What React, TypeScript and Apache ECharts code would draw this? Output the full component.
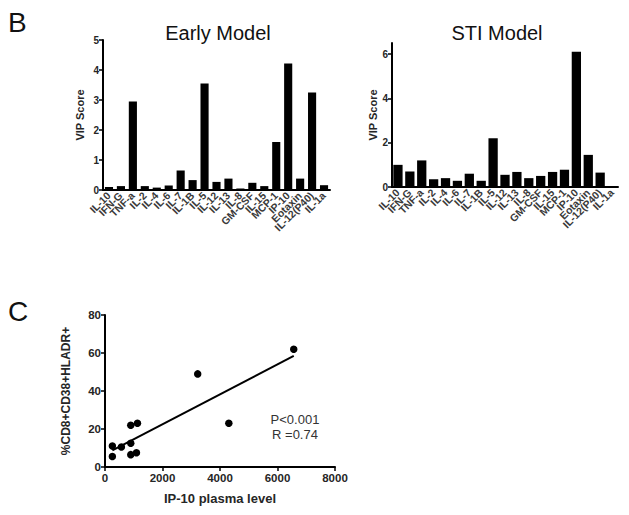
import React, { useEffect, useRef } from "react";
import * as echarts from "echarts";

const cytokines = [
  "IL-10", "IFN-G", "TNF-a", "IL-2", "IL-4", "IL-6", "IL-7", "IL-1B", "IL-5", "IL-12",
  "IL-13", "IL-8", "GM-CSF", "IL-15", "MCP-1", "IP-10", "Eotaxin", "IL-12(P40)", "IL-1a",
];
const earlyVip = [0.1, 0.13, 2.95, 0.13, 0.08, 0.15, 0.65, 0.33, 3.55, 0.27, 0.38, 0.05, 0.24, 0.13, 1.6, 4.22, 0.38, 3.25, 0.16];
const stiVip = [1.0, 0.7, 1.2, 0.35, 0.4, 0.28, 0.6, 0.28, 2.2, 0.55, 0.68, 0.4, 0.5, 0.68, 0.78, 6.1, 1.45, 0.65, 0];
const earlyTicks = [0, 1, 2, 3, 4, 5];
const stiTicks = [0, 2, 4, 6];

const ip10Level = [256, 256, 570, 896, 896, 896, 1129, 1094, 3224, 4307, 6565];
const cd8Pct = [11, 5.5, 10.5, 12.5, 22, 6.5, 23, 7.5, 49, 23, 62];
const scatterXTicks = [0, 2000, 4000, 6000, 8000];
const scatterYTicks = [0, 20, 40, 60, 80];
const statsText = ["P<0.001", "R =0.74"];

const FONT = "'Liberation Sans', Arial, sans-serif";
const TXT = "#262626";

function fitLine(xs: number[], ys: number[]) {
  const n = xs.length;
  const mx = xs.reduce((a, b) => a + b, 0) / n;
  const my = ys.reduce((a, b) => a + b, 0) / n;
  let sxy = 0, sxx = 0;
  for (let i = 0; i < n; i++) {
    sxy += (xs[i] - mx) * (ys[i] - my);
    sxx += (xs[i] - mx) * (xs[i] - mx);
  }
  const slope = sxy / sxx;
  const icpt = my - slope * mx;
  const x0 = Math.min(...xs), x1 = Math.max(...xs);
  return [[x0, icpt + slope * x0], [x1, icpt + slope * x1]];
}

export default function App() {
  const ref = useRef<HTMLDivElement>(null);
  useEffect(() => {
    if (!ref.current) return;
    const chart = echarts.init(ref.current, undefined, { renderer: "svg" });
    const axisLine = { lineStyle: { color: "#000", width: 2 } };
    const catAxis = (gridIndex: number) => ({
      type: "category",
      gridIndex,
      data: cytokines,
      axisLine,
      axisTick: { alignWithLabel: true, length: 4, lineStyle: { color: "#000", width: 1.5 } },
      axisLabel: {
        interval: 0,
        rotate: 45,
        fontSize: 10.5,
        fontWeight: "bold",
        color: "#3a3a3a",
        fontFamily: FONT,
        margin: 4,
      },
    });
    const valAxisBar = (gridIndex: number, max: number, ticks: number[], interval: number, nameGap: number) => ({
      type: "value",
      gridIndex,
      min: 0,
      max,
      interval,
      name: "VIP Score",
      nameLocation: "middle",
      nameGap,
      nameTextStyle: { fontSize: 11, fontWeight: "bold", color: TXT, fontFamily: FONT },
      splitLine: { show: false },
      axisLine: { show: true, ...axisLine },
      axisTick: { show: true, length: 4, customValues: ticks, lineStyle: { color: "#000", width: 1.5 } },
      axisLabel: { customValues: ticks, fontSize: 10, fontWeight: "bold", color: TXT, fontFamily: FONT, margin: 4 },
    });
    const line = fitLine(ip10Level, cd8Pct);
    chart.setOption({
      animation: false,
      textStyle: { fontFamily: FONT },
      title: [
        { text: "Early Model", left: 213, top: 18, textAlign: "center", textStyle: { fontSize: 20, fontWeight: "normal", color: "#111", fontFamily: FONT } },
        { text: "STI Model", left: 492, top: 18, textAlign: "center", textStyle: { fontSize: 20, fontWeight: "normal", color: "#111", fontFamily: FONT } },
      ],
      graphic: [
        { type: "text", left: 8, top: 8, style: { text: "B", fontSize: 28, fill: "#111", fontFamily: FONT } },
        { type: "text", left: 8, top: 297, style: { text: "C", fontSize: 28, fill: "#111", fontFamily: FONT } },
        { type: "text", x: 295, y: 412, style: { text: statsText.join("\n"), fontSize: 13, lineHeight: 15, fill: "#333", fontFamily: FONT, align: "center" } },
      ],
      grid: [
        { left: 103, right: 299, top: 40, height: 150 },
        { left: 392, right: 11, top: 43, height: 144 },
        { left: 105, right: 294, top: 315, height: 152 },
      ],
      xAxis: [
        catAxis(0),
        catAxis(1),
        {
          type: "value",
          gridIndex: 2,
          min: 0,
          max: 8000,
          interval: 2000,
          name: "IP-10 plasma level",
          nameLocation: "middle",
          nameGap: 25,
          nameTextStyle: { fontSize: 13, fontWeight: "bold", color: TXT, fontFamily: FONT },
          splitLine: { show: false },
          axisLine,
          axisTick: { length: 4, lineStyle: { color: "#000", width: 1.5 }, customValues: scatterXTicks },
          axisLabel: { customValues: scatterXTicks, formatter: (v: number) => String(v), fontSize: 11.5, fontWeight: "bold", color: TXT, fontFamily: FONT, margin: 5 },
        },
      ],
      yAxis: [
        valAxisBar(0, 5, earlyTicks, 1, 18),
        valAxisBar(1, 6.5, stiTicks, 2, 14),
        {
          type: "value",
          gridIndex: 2,
          min: 0,
          max: 80,
          interval: 20,
          name: "%CD8+CD38+HLADR+",
          nameLocation: "middle",
          nameGap: 33,
          nameTextStyle: { fontSize: 12, fontWeight: "bold", color: TXT, fontFamily: FONT },
          splitLine: { show: false },
          axisLine: { show: true, ...axisLine },
          axisTick: { show: true, length: 4, lineStyle: { color: "#000", width: 1.5 }, customValues: scatterYTicks },
          axisLabel: { customValues: scatterYTicks, fontSize: 11.5, fontWeight: "bold", color: TXT, fontFamily: FONT, margin: 4 },
        },
      ],
      series: [
        { type: "bar", xAxisIndex: 0, yAxisIndex: 0, data: earlyVip, barCategoryGap: "32%", itemStyle: { color: "#000" } },
        { type: "bar", xAxisIndex: 1, yAxisIndex: 1, data: stiVip, barCategoryGap: "22%", itemStyle: { color: "#000" } },
        {
          type: "scatter",
          xAxisIndex: 2,
          yAxisIndex: 2,
          data: ip10Level.map((x, i) => [x, cd8Pct[i]]),
          symbolSize: 7.5,
          itemStyle: { color: "#000", opacity: 1 },
        },
        {
          type: "line",
          xAxisIndex: 2,
          yAxisIndex: 2,
          data: line,
          showSymbol: false,
          symbol: "none",
          lineStyle: { color: "#000", width: 2 },
        },
      ],
    });
    return () => chart.dispose();
  }, []);
  return <div ref={ref} style={{ position: "fixed", left: 0, top: 0, width: 629, height: 515, background: "#fff" }} />;
}
